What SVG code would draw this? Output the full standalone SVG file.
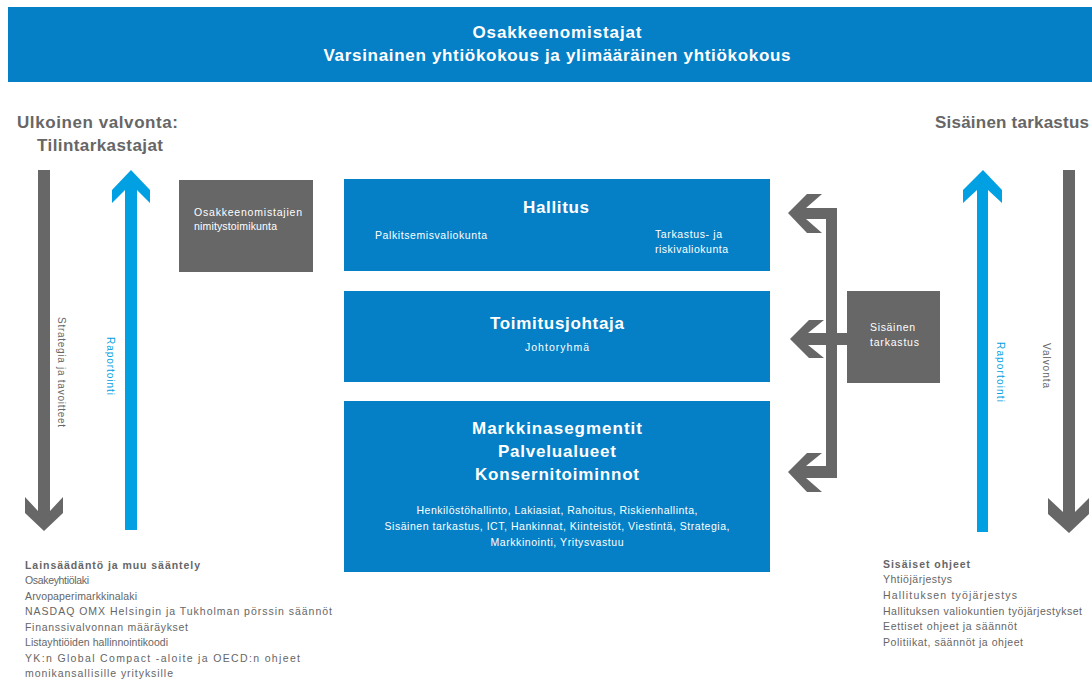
<svg xmlns="http://www.w3.org/2000/svg" width="1092" height="680" viewBox="0 0 1092 680">
<style>
.bg{fill:#ffffff}
.blue{fill:#0580c6}
.gbox{fill:#676767}
.garrow{fill:#676767}
.barrow{fill:#00a0e2}
text{font-family:"Liberation Sans",Arial,sans-serif}
.ttl{font-size:17px;font-weight:bold;fill:#ffffff;text-anchor:middle}
.side{font-size:17px;font-weight:bold;fill:#666666}
.sm{font-size:10.5px;fill:#ffffff}
.smc{font-size:10.5px;fill:#ffffff;text-anchor:middle}
.rot{font-size:10px;fill:#666666}
.rotb{font-size:10px;fill:#00a0e2}
.list{font-size:10.5px;fill:#666666}
.listb{font-size:10.5px;fill:#666666;font-weight:bold}
</style>
<rect class="bg" x="0" y="0" width="1092" height="680"/>

<g id="banner">
<rect class="blue" x="8" y="7" width="1084" height="75"/>
<text class="ttl" x="557" y="38" textLength="169">Osakkeenomistajat</text>
<text class="ttl" x="557" y="61" textLength="467">Varsinainen yhtiökokous ja ylimääräinen yhtiökokous</text>
</g>

<g id="ulkoinen-title">
<text class="side" x="17" y="128" textLength="161">Ulkoinen valvonta:</text>
<text class="side" x="37" y="151" textLength="126">Tilintarkastajat</text>
</g>

<g id="sisainen-title">
<text class="side" x="935" y="128" textLength="154">Sisäinen tarkastus</text>
</g>

<g id="nimitystoimikunta">
<rect class="gbox" x="179" y="180" width="134" height="92"/>
<text class="sm" x="194" y="216" textLength="108">Osakkeenomistajien</text>
<text class="sm" x="194" y="230" textLength="83">nimitystoimikunta</text>
</g>

<g id="hallitus">
<rect class="blue" x="344" y="179" width="426" height="92"/>
<text class="ttl" x="556" y="213" textLength="66">Hallitus</text>
<text class="sm" x="375" y="239" textLength="112">Palkitsemisvaliokunta</text>
<text class="sm" x="655" y="238" textLength="67">Tarkastus- ja</text>
<text class="sm" x="655" y="253" textLength="73">riskivaliokunta</text>
</g>

<g id="toimitusjohtaja">
<rect class="blue" x="344" y="291" width="426" height="91"/>
<text class="ttl" x="557" y="329" textLength="134">Toimitusjohtaja</text>
<text class="smc" x="557" y="351" textLength="64">Johtoryhmä</text>
</g>

<g id="markkinasegmentit">
<rect class="blue" x="344" y="401" width="426" height="171"/>
<text class="ttl" x="557" y="434" textLength="170">Markkinasegmentit</text>
<text class="ttl" x="557" y="457" textLength="118">Palvelualueet</text>
<text class="ttl" x="557" y="480" textLength="164">Konsernitoiminnot</text>
<text class="smc" x="557" y="514" textLength="281">Henkilöstöhallinto, Lakiasiat, Rahoitus, Riskienhallinta,</text>
<text class="smc" x="557" y="530" textLength="345">Sisäinen tarkastus, ICT, Hankinnat, Kiinteistöt, Viestintä, Strategia,</text>
<text class="smc" x="557" y="546" textLength="133">Markkinointi, Yritysvastuu</text>
</g>

<g id="sisainen-tarkastus">
<rect class="gbox" x="847" y="291" width="93" height="92"/>
<text class="sm" x="870" y="331" textLength="45">Sisäinen</text>
<text class="sm" x="870" y="346" textLength="49">tarkastus</text>
</g>

<g id="connectors">
<!-- left down arrow: Strategia ja tavoitteet -->
<polygon class="garrow" points="38,170 50,170 50,511 63,497 63,513 44,531 25,513 25,497 38,511"/>
<text class="rot" transform="translate(58,317) rotate(90)" textLength="110">Strategia ja tavoitteet</text>
<!-- left up arrow: Raportointi -->
<polygon class="barrow" points="131,170 150,190 150,203 137,190 137,530 125,530 125,190 112,203 112,190"/>
<text class="rotb" transform="translate(107,337) rotate(90)" textLength="58">Raportointi</text>
<!-- right up arrow: Raportointi -->
<polygon class="barrow" points="983,170 1002,190 1002,203 988,190 988,532 977,532 977,190 963,203 963,190"/>
<text class="rotb" transform="translate(997,342) rotate(90)" textLength="60">Raportointi</text>
<!-- right down arrow: Valvonta -->
<polygon class="garrow" points="1063,170 1075,170 1075,512 1089,498 1089,514 1069,533 1048,514 1048,498 1063,512"/>
<text class="rot" transform="translate(1043,343) rotate(90)" textLength="45">Valvonta</text>
<!-- internal audit bracket -->
<rect class="garrow" x="826" y="208" width="11" height="270"/>
<polygon class="garrow" points="788,213 807,194 822,194 806,208 837,208 837,219 806,219 822,233 807,233"/>
<polygon class="garrow" points="790,339 809,320 824,320 808,333 847,333 847,345 808,345 824,358 809,358"/>
<polygon class="garrow" points="788,472 807,453 822,453 806,466 837,466 837,478 806,478 822,492 807,492"/>
</g>

<g id="lainsaadanto">
<text class="listb" x="25" y="569" textLength="175">Lainsäädäntö ja muu sääntely</text>
<text class="list" x="25" y="584" textLength="64">Osakeyhtiölaki</text>
<text class="list" x="25" y="600" textLength="112">Arvopaperimarkkinalaki</text>
<text class="list" x="25" y="615" textLength="307">NASDAQ OMX Helsingin ja Tukholman pörssin säännöt</text>
<text class="list" x="25" y="631" textLength="163">Finanssivalvonnan määräykset</text>
<text class="list" x="25" y="646" textLength="143">Listayhtiöiden hallinnointikoodi</text>
<text class="list" x="25" y="662" textLength="275">YK:n Global Compact -aloite ja OECD:n ohjeet</text>
<text class="list" x="25" y="677" textLength="148">monikansallisille yrityksille</text>
</g>

<g id="sisaiset-ohjeet">
<text class="listb" x="883" y="568" textLength="87">Sisäiset ohjeet</text>
<text class="list" x="883" y="583" textLength="69">Yhtiöjärjestys</text>
<text class="list" x="883" y="599" textLength="134">Hallituksen työjärjestys</text>
<text class="list" x="883" y="615" textLength="199">Hallituksen valiokuntien työjärjestykset</text>
<text class="list" x="883" y="630" textLength="134">Eettiset ohjeet ja säännöt</text>
<text class="list" x="883" y="646" textLength="140">Politiikat, säännöt ja ohjeet</text>
</g>
</svg>
